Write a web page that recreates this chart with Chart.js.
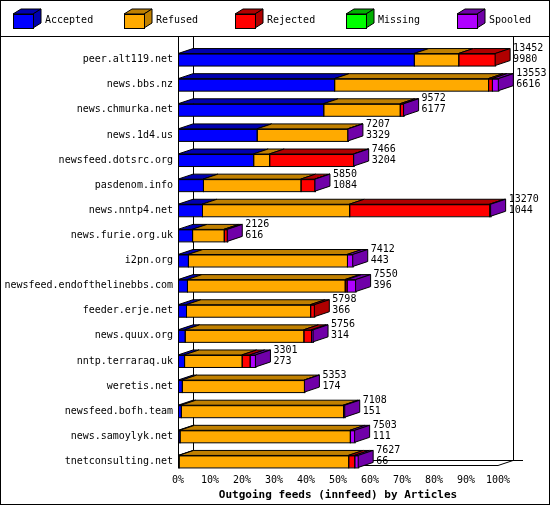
<!DOCTYPE html>
<html><head><meta charset="utf-8">
<script src="https://cdn.jsdelivr.net/npm/chart.js@4.4.1/dist/chart.umd.min.js"></script>
<style>
html,body{margin:0;padding:0;background:#fff}
#wrap{position:relative;width:548px;height:503px;border:1px solid #000}
</style></head><body>
<div id="wrap"><canvas id="c" width="548" height="503"></canvas></div>
<script>
const FONT = '"DejaVu Sans Mono", monospace';

const feeds = ['peer.alt119.net', 'news.bbs.nz', 'news.chmurka.net', 'news.1d4.us', 'newsfeed.dotsrc.org',
    'pasdenom.info', 'news.nntp4.net', 'news.furie.org.uk', 'i2pn.org', 'newsfeed.endofthelinebbs.com',
    'feeder.erje.net', 'news.quux.org', 'nntp.terraraq.uk', 'weretis.net', 'newsfeed.bofh.team',
    'news.samoylyk.net', 'tnetconsulting.net'];
const accepted = [73.7, 48.8, 45.4, 24.6, 23.5, 7.8, 7.5, 4.4, 3.1, 2.8, 2.5, 2.1, 1.9, 1.2, 0.9, 0.5, 0.2];
const refused = [13.9, 48.1, 23.9, 28.4, 5.0, 30.5, 46.0, 9.9, 49.7, 49.3, 38.8, 37.1, 18.0, 38.2, 50.7, 53.2, 53.0];
const rejected = [11.5, 1.2, 1.1, 0, 26.3, 4.4, 43.8, 1.0, 0, 0.6, 1.3, 2.4, 2.5, 0, 0, 0, 1.9];
const missing = [0, 0, 0, 0, 0, 0, 0, 0, 0, 0, 0, 0, 0, 0, 0, 0, 0];
const spooled = [0, 2.0, 0.1, 0.1, 0.1, 0.1, 0.4, 0.1, 1.8, 2.8, 0, 0.6, 1.8, 0.1, 0.5, 1.5, 1.2];
const totalArticles = [13452, 13553, 9572, 7207, 7466, 5850, 13270, 2126, 7412, 7550, 5798, 5756, 3301, 5353, 7108, 7503, 7627];
const acceptedArticles = [9980, 6616, 6177, 3329, 3204, 1084, 1044, 616, 443, 396, 366, 314, 273, 174, 151, 111, 66];
const xTicks = ['0%', '10%', '20%', '30%', '40%', '50%', '60%', '70%', '80%', '90%', '100%'];

const series = [
    { label: 'Accepted', data: accepted, front: '#0000ff', dark: '#0000b0' },
    { label: 'Refused', data: refused, front: '#ffaa00', dark: '#c08000' },
    { label: 'Rejected', data: rejected, front: '#ff0000', dark: '#b00000' },
    { label: 'Missing', data: missing, front: '#00ff00', dark: '#00b000' },
    { label: 'Spooled', data: spooled, front: '#b000ff', dark: '#7000a8' },
];

const DX = 15, DY = 5;

function poly(ctx, pts, fill) {
    ctx.beginPath();
    ctx.moveTo(pts[0][0], pts[0][1]);
    for (let i = 1; i < pts.length; i++) ctx.lineTo(pts[i][0], pts[i][1]);
    ctx.closePath();
    ctx.fillStyle = fill;
    ctx.fill();
    ctx.stroke();
}

const frame3d = {
    id: 'frame3d',
    beforeDatasetsDraw(chart) {
        const { ctx, chartArea: a } = chart;
        const floor = Math.round(a.bottom - 9) + 0.5;
        ctx.save();
        ctx.strokeStyle = '#000';
        ctx.lineWidth = 1;
        ctx.beginPath();
        ctx.moveTo(a.left + 0.5, 36); ctx.lineTo(a.left + 0.5, floor);
        ctx.lineTo(a.right, floor); ctx.lineTo(a.right + DX, floor - DY);
        ctx.moveTo(a.left + DX + 0.5, 36); ctx.lineTo(a.left + DX + 0.5, floor - DY);
        ctx.lineTo(a.right + DX + 10, floor - DY);
        ctx.moveTo(a.right + DX + 0.5, 36); ctx.lineTo(a.right + DX + 0.5, floor - DY);
        ctx.stroke();
        ctx.restore();
    },
    afterDatasetsDraw(chart) {
        const { ctx } = chart;
        ctx.save();
        ctx.strokeStyle = '#000';
        ctx.lineWidth = 1;
        const n = feeds.length;
        for (let r = 0; r < n; r++) {
            let last = -1;
            series.forEach(function (s, d) {
                const el = chart.getDatasetMeta(d).data[r];
                if (s.data[r] <= 0) return;
                last = d;
                const top = el.y - el.height / 2;
                poly(ctx, [[el.base, top], [el.x, top], [el.x + DX, top - DY], [el.base + DX, top - DY]], s.dark);
                ctx.strokeRect(el.base + 0.5, top + 0.5, el.x - el.base, el.height);
            });
            const el = chart.getDatasetMeta(last).data[r];
            const top = el.y - el.height / 2, bot = el.y + el.height / 2;
            poly(ctx, [[el.x, top], [el.x + DX, top - DY], [el.x + DX, bot - DY], [el.x, bot]], series[last].dark);
            ctx.fillStyle = '#000';
            ctx.font = '10px ' + FONT;
            ctx.textBaseline = 'middle';
            ctx.textAlign = 'left';
            ctx.fillText(String(totalArticles[r]), el.x + DX + 3, top - 5);
            ctx.fillText(String(acceptedArticles[r]), el.x + DX + 3, top + 6);
        }
        ctx.restore();
    },
    afterDraw(chart) {
        const { ctx } = chart;
        ctx.save();
        ctx.strokeStyle = '#000';
        ctx.beginPath();
        ctx.moveTo(0, 35.5); ctx.lineTo(548, 35.5);
        ctx.stroke();
        ctx.font = '10px ' + FONT;
        ctx.textBaseline = 'middle';
        series.forEach(function (s, i) {
            const x = 12 + i * 111, y = 13, w = 20, h = 14;
            poly(ctx, [[x, y], [x + w, y], [x + w + 8, y - 5], [x + 8, y - 5]], s.dark);
            poly(ctx, [[x + w, y], [x + w + 8, y - 5], [x + w + 8, y + h - 5], [x + w, y + h]], s.dark);
            ctx.fillStyle = s.front;
            ctx.fillRect(x, y, w, h);
            ctx.strokeRect(x + 0.5, y + 0.5, w, h);
            ctx.fillStyle = '#000';
            ctx.fillText(s.label, x + 32, 19);
        });
        ctx.restore();
    },
};

new Chart(document.getElementById('c'), {
    type: 'bar',
    data: {
        labels: feeds,
        datasets: series.map(function (s) {
            return { label: s.label, data: s.data, backgroundColor: s.front, borderWidth: 0, barThickness: 12 };
        }),
    },
    options: {
        indexAxis: 'y',
        responsive: false,
        animation: false,
        layout: { padding: { top: 46, right: 51, left: 0, bottom: 2 } },
        plugins: { legend: { display: false }, tooltip: { enabled: false } },
        scales: {
            x: {
                stacked: true, min: 0, max: 100,
                grid: { display: false, drawTicks: false }, border: { display: false },
                ticks: { stepSize: 10, color: '#000', font: { family: FONT, size: 10 }, padding: 0,
                    maxRotation: 0, autoSkip: false,
                    callback: function (v, i) { return xTicks[i]; } },
                title: { display: true, text: 'Outgoing feeds (innfeed) by Articles', color: '#000',
                    font: { family: FONT, size: 11, weight: 'bold' }, padding: { top: 0, bottom: 0 } },
                afterFit: function (s) { s.height = 28; },
            },
            y: {
                stacked: true,
                grid: { display: false, drawTicks: false }, border: { display: false },
                ticks: { color: '#000', font: { family: FONT, size: 10 }, padding: 5 },
                afterFit: function (s) { s.width = 177; },
            },
        },
    },
    plugins: [frame3d],
});
</script>
</body></html>
